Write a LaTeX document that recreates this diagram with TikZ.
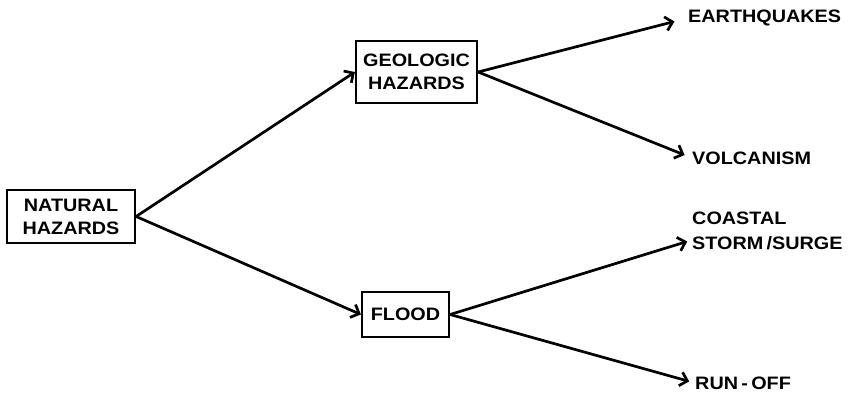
\documentclass[tikz,border=0pt]{standalone}
\usepackage{fontspec}
\setmainfont{Liberation Sans}
\usetikzlibrary{arrows.meta}
% slightly widened lettering
\newcommand\hzwide[1]{\scalebox{1.1}[1]{#1}}
\begin{document}
\begin{tikzpicture}[x=1pt,y=-1pt,
  hazbox/.style={draw,line width=2.2pt,inner sep=0pt,align=center,
    font=\fontsize{18}{23}\selectfont\bfseries},
  leaf/.style={inner sep=0pt,align=left,anchor=west,
    font=\fontsize{18}{25}\selectfont\bfseries},
  link/.style={line width=2.7pt,line cap=round,
    -{Straight Barb[length=7pt,width=14pt,line width=2.7pt]}}]
  \useasboundingbox (0,0) rectangle (850,399);

  % boxed categories
  \node[hazbox,minimum width=128pt,minimum height=53pt] (nat) at (71,216.5) {\hzwide{NATURAL}\\\hzwide{HAZARDS}};
  \node[hazbox,minimum width=121pt,minimum height=62pt] (geo) at (416.5,72) {\hzwide{GEOLOGIC}\\\hzwide{HAZARDS}};
  \node[hazbox,minimum width=87pt,minimum height=45pt] (flood) at (405.5,314.5) {\hzwide{FLOOD}};

  % outcome labels
  \node[leaf] (eq) at (688,18) {\hzwide{EARTHQUAKES}};
  \node[leaf] (vol) at (692,158) {\hzwide{VOLCANISM}};
  \node[leaf] (coast) at (692,231) {\hzwide{COASTAL}\\\hzwide{STORM\,/SURGE}};
  \node[leaf] (run) at (695,383) {\hzwide{RUN\,-\,OFF}};

  % branches
  \draw[link] (nat.east) -- (geo.west);
  \draw[link] (nat.east) -- (flood.west);
  \draw[link,shorten >=14pt] (geo.east) -- (eq.west);
  \draw[link,shorten >=8pt] (geo.east) -- (vol.west);
  \draw[link,shorten >=5pt] (flood.east) -- ([yshift=-9pt]coast.west);
  \draw[link,shorten >=6pt] (flood.east) -- (run.west);
\end{tikzpicture}
\end{document}
